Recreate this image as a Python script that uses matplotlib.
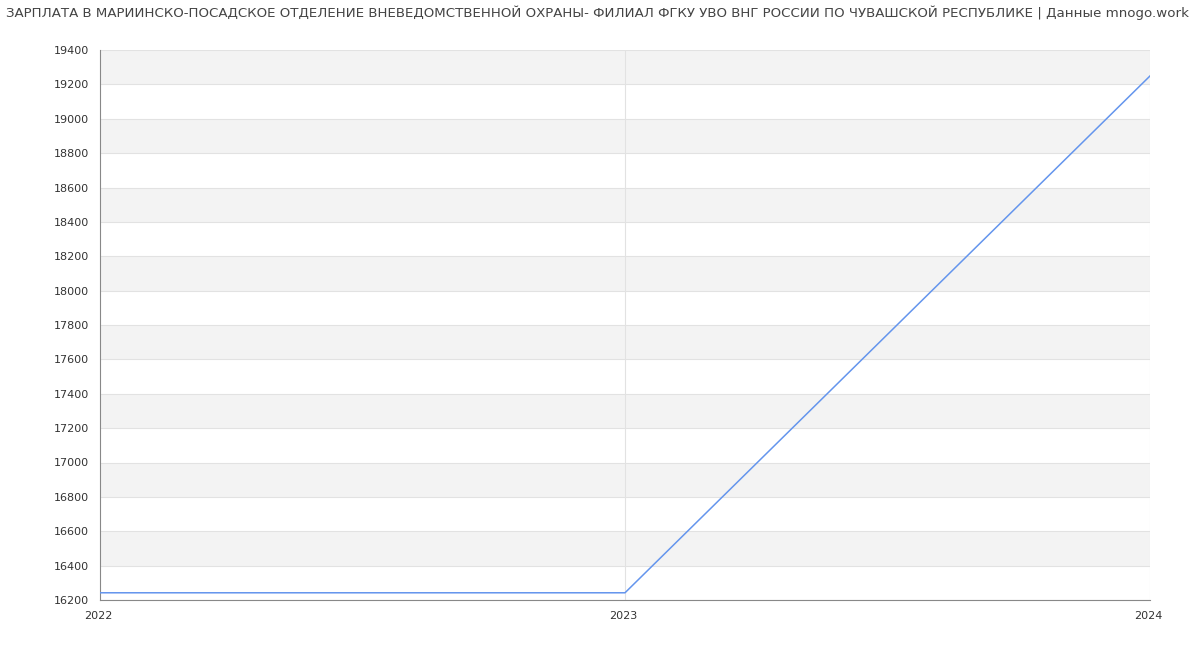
import matplotlib
matplotlib.use("Agg")
import matplotlib.pyplot as plt  # noqa: E402
from matplotlib.transforms import ScaledTranslation  # noqa: E402

years = [2022, 2023, 2024]
salary = [16242, 16242, 19249]
y_ticks = list(range(16200, 19401, 200))

TITLE = ("ЗАРПЛАТА В МАРИИНСКО-ПОСАДСКОЕ ОТДЕЛЕНИЕ ВНЕВЕДОМСТВЕННОЙ ОХРАНЫ- ФИЛИАЛ "
         "ФГКУ УВО ВНГ РОССИИ ПО ЧУВАШСКОЙ РЕСПУБЛИКЕ | Данные mnogo.work")

fig = plt.figure(figsize=(12, 6.5), dpi=100)
fig.patch.set_facecolor("white")
ax = fig.add_axes([100 / 1200, 1 - 600 / 650, 1050 / 1200, 550 / 650])

# alternating bands
for i, lo in enumerate(y_ticks[:-1]):
    if i % 2 == 1:
        ax.axhspan(lo, lo + 200, color="#f3f3f3", lw=0, zorder=0)
for t in y_ticks:
    ax.axhline(t, color="#e2e2e2", lw=0.8, zorder=1)
ax.axvline(2023, color="#e2e2e2", lw=0.8, zorder=1)
ax.axvline(2024, color="#e2e2e2", lw=0.8, zorder=1)

ax.plot(years, salary, color="#6495ed", lw=1.1, zorder=3)

ax.set_xlim(2022, 2024)
ax.set_ylim(16200, 19400)
ax.set_yticks(y_ticks)
ax.set_xticks(years)
ax.set_xticklabels([str(y) for y in years])
ax.tick_params(axis="both", labelsize=8, colors="#333", length=0)
ax.tick_params(axis="y", pad=8)
ax.tick_params(axis="x", pad=8)
shift = ScaledTranslation(-2 / 100, 0, fig.dpi_scale_trans)
for lbl in ax.get_xticklabels():
    lbl.set_transform(lbl.get_transform() + shift)

for sp in ("top", "right"):
    ax.spines[sp].set_visible(False)
for sp in ("left", "bottom"):
    ax.spines[sp].set_color("#888")
    ax.spines[sp].set_linewidth(0.8)

fig.text(0.498, 1 - 13 / 650, TITLE, ha="center", va="center", fontsize=9.6, color="#444")

plt.savefig("out.png", dpi=100, facecolor="white")
